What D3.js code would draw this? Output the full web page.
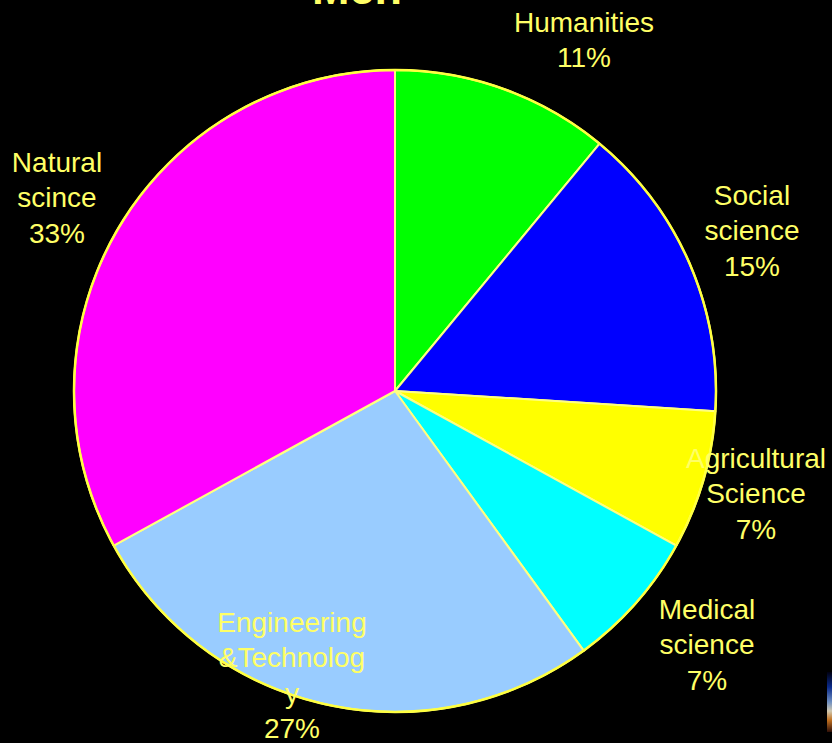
<!DOCTYPE html>
<html>
<head>
<meta charset="utf-8">
<script src="https://cdn.jsdelivr.net/npm/d3@7"></script>
<style>
  html, body { margin: 0; padding: 0; background: #000; }
  svg { display: block; }
</style>
</head>
<body>
<svg id="chart" width="832" height="743"></svg>
<script>
// Fields of study, clockwise from 12 o'clock
const categories = ["Humanities", "Social science", "Agricultural Science", "Medical science", "Engineering &Technology", "Natural scince"];
const shares = [11, 15, 7, 7, 27, 33];
const sliceColors = ["#00FF00", "#0000FF", "#FFFF00", "#00FFFF", "#99CCFF", "#FF00FF"];
// Label text as it wraps onto lines
const labelLines = [
  ["Humanities", "11%"],
  ["Social", "science", "15%"],
  ["Agricultural", "Science", "7%"],
  ["Medical", "science", "7%"],
  ["Engineering", "&Technolog", "y", "27%"],
  ["Natural", "scince", "33%"]
];
const title = "Men";

const svg = d3.select("#chart");
const W = 832, H = 743;
const cx = 395, cy = 391, R = 321;
const textColor = "#FFFF66";
const fontFamily = "'Liberation Sans', Arial, sans-serif";

svg.append("rect").attr("width", W).attr("height", H).attr("fill", "#000");

const pie = d3.pie().sort(null).value(d => d)(shares);
const arc = d3.arc().innerRadius(0).outerRadius(R);

const g = svg.append("g").attr("transform", `translate(${cx},${cy})`);

g.selectAll("path.slice")
  .data(pie)
  .join("path")
  .attr("class", "slice")
  .attr("d", arc)
  .attr("fill", (d, i) => sliceColors[i])
  .attr("stroke", "#FFFF80")
  .attr("stroke-width", 2)
  .attr("stroke-linejoin", "round");

// outer rim
g.append("circle")
  .attr("r", R)
  .attr("fill", "none")
  .attr("stroke", "#FFFF40")
  .attr("stroke-width", 2.5);

// label anchor points (centre x, first baseline y) placed around the pie
const labelAnchors = [
  { x: 584, y: 32 },
  { x: 752, y: 205 },
  { x: 756, y: 468 },
  { x: 707, y: 619 },
  { x: 292, y: 632 },
  { x: 57,  y: 172 }
];
const lineHeight = 35.3;

const labels = svg.append("g")
  .attr("font-family", fontFamily)
  .attr("font-size", 28)
  .attr("fill", textColor)
  .attr("text-anchor", "middle");

labelLines.forEach((lines, i) => {
  const a = labelAnchors[i];
  const t = labels.append("text").attr("x", a.x).attr("y", a.y);
  lines.forEach((ln, j) => {
    t.append("tspan")
      .attr("x", a.x)
      .attr("y", a.y + j * lineHeight)
      .text(ln);
  });
});

// title, partly above the top edge
svg.append("text")
  .attr("x", 357)
  .attr("y", 4)
  .attr("text-anchor", "middle")
  .attr("font-family", fontFamily)
  .attr("font-weight", "bold")
  .attr("font-size", 45)
  .attr("fill", "#FFFF66")
  .text(title);

// thin coloured strip at the lower right edge
const grad = svg.append("defs").append("linearGradient")
  .attr("id", "edgeStrip").attr("x1", 0).attr("y1", 0).attr("x2", 0).attr("y2", 1);
[["0%", "#000010"], ["25%", "#0a2a8a"], ["50%", "#6f8fc0"], ["65%", "#d0c8b0"], ["80%", "#c07020"], ["100%", "#301008"]]
  .forEach(([o, c]) => grad.append("stop").attr("offset", o).attr("stop-color", c));
svg.append("rect")
  .attr("x", 827).attr("y", 672).attr("width", 5).attr("height", 60)
  .attr("fill", "url(#edgeStrip)");
</script>
</body>
</html>
